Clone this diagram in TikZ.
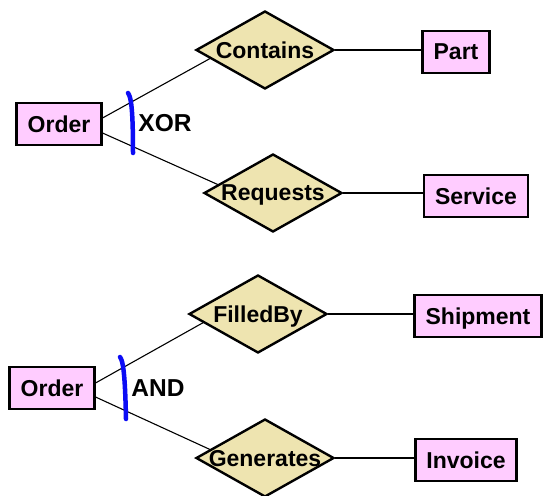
\documentclass[tikz,border=0pt]{standalone}
\usepackage{fontspec}
\setmainfont{Liberation Sans}
\usetikzlibrary{shapes.geometric,calc,backgrounds}
\definecolor{entfill}{RGB}{255,204,255}
\definecolor{relfill}{RGB}{238,228,176}
\definecolor{barblue}{RGB}{12,12,245}

\begin{document}
\begin{tikzpicture}[x=1pt,y=-1pt,
  entity/.style={draw=black, line width=2.4pt, fill=entfill, minimum height=42pt,
    inner xsep=11pt, inner ysep=0pt, text depth=0pt,
    font=\fontsize{23}{26}\selectfont\bfseries},
  relation/.style={diamond, draw=black, line width=2.4pt, fill=relfill,
    minimum width=138pt, minimum height=78pt, inner sep=0pt, text depth=0pt,
    font=\fontsize{23}{26}\selectfont\bfseries},
  link/.style={line width=1.1pt},
  excl/.style={draw=barblue, line width=4.5pt, line cap=round},
  constraint/.style={inner sep=0pt, text depth=0pt,
    font=\fontsize{24.5}{28}\selectfont\bfseries}]
\useasboundingbox (0,0) rectangle (543,495);

% --- exclusive relationships ---
\node[entity] (o1) at (59,124) {Order};
\node[relation] (contains) at (265,50) {\makebox[0pt]{Contains}};
\node[relation] (requests) at (273,193) {\makebox[0pt]{Requests}};
\node[entity] (part) at (456,52) {Part};
\node[entity] (service) at (476,196) {Service};
\node[constraint] (xor) at (165,123) {XOR};

% --- combined relationships ---
\node[entity] (o2) at (52,388) {Order};
\node[relation] (filled) at (258,314) {\makebox[0pt]{FilledBy}};
\node[relation] (generates) at (265,458) {\makebox[0pt]{Generates}};
\node[entity] (shipment) at (478,316) {Shipment};
\node[entity] (invoice) at (466,460) {Invoice};
\node[constraint] (and) at (158,388) {AND};

\begin{pgfonlayer}{background}
  \fill[white] (0,0) rectangle (543,495);
  \draw[link] ($(o1.east)+(0,-6)$) -- ($(contains.center)+(-45,3)$);
  \draw[link] ($(o1.east)+(0,9)$) -- ($(requests.center)+(-43,-3)$);
  \draw[link] (contains.east) -- (contains.east -| part.west);
  \draw[link] (requests.east) -- (requests.east -| service.west);
  \draw[link] ($(o2.east)+(0,-5)$) -- ($(filled.center)+(-43,2)$);
  \draw[link] ($(o2.east)+(0,9)$) -- ($(generates.center)+(-43,-3)$);
  \draw[link] (filled.east) -- (filled.east -| shipment.west);
  \draw[link] (generates.east) -- (generates.east -| invoice.west);
\end{pgfonlayer}

% constraint arcs across the pairs of links
\draw[excl] (128,93) .. controls (131,97) and (133,108) .. (133,153);
\draw[excl] (120,357) .. controls (123,361) and (125,372) .. (126,419);
\end{tikzpicture}
\end{document}
